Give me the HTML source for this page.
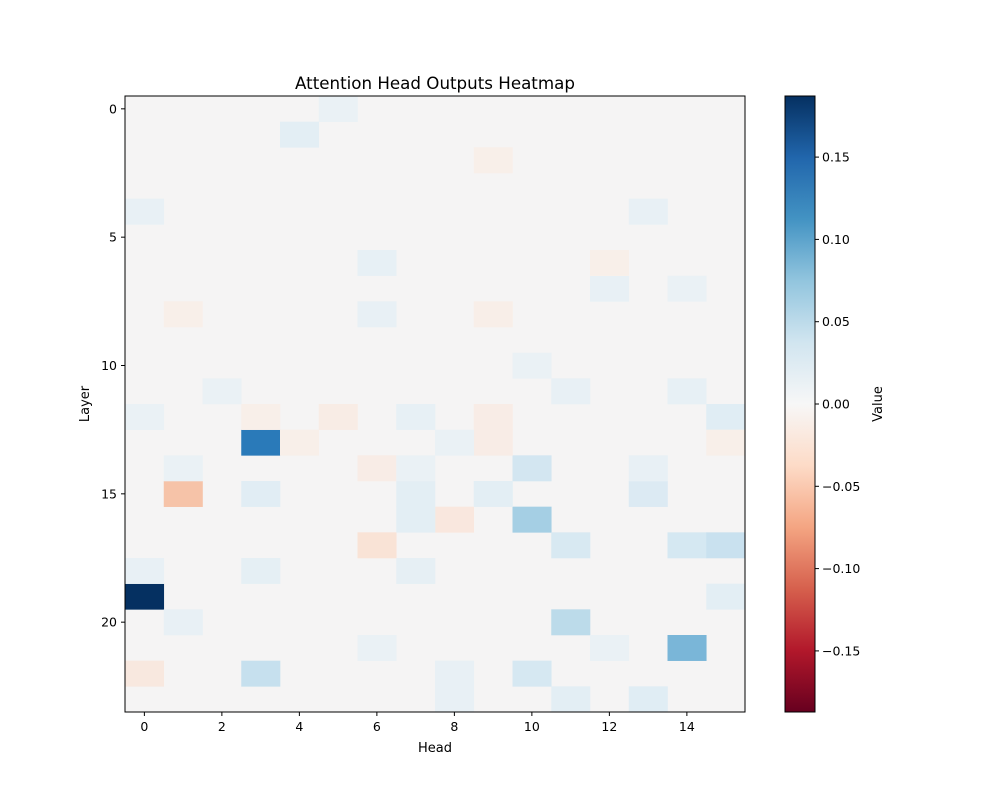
<!DOCTYPE html>
<html><head><meta charset="utf-8"><style>body{margin:0;background:#fff}svg{display:block}text{font-family:"DejaVu Sans","Liberation Sans",sans-serif;fill:#000}</style></head>
<body>
<svg id="s" width="1000" height="800" xmlns="http://www.w3.org/2000/svg">
<defs><linearGradient id="g" x1="0" y1="1" x2="0" y2="0">
<stop offset="0" stop-color="#67001f"/><stop offset="0.1" stop-color="#b2182b"/><stop offset="0.2" stop-color="#d6604d"/><stop offset="0.3" stop-color="#f4a582"/><stop offset="0.4" stop-color="#fddbc7"/><stop offset="0.5" stop-color="#f7f7f7"/><stop offset="0.6" stop-color="#d1e5f0"/><stop offset="0.7" stop-color="#92c5de"/><stop offset="0.8" stop-color="#4393c3"/><stop offset="0.9" stop-color="#2166ac"/><stop offset="1" stop-color="#053061"/></linearGradient></defs>
<text x="435" y="89" font-size="16.7" text-anchor="middle">Attention Head Outputs Heatmap</text>
<rect x="125" y="96" width="620" height="616" fill="#f5f4f4"/>
<g id="cells"></g>
<rect x="125" y="96" width="620" height="616" fill="none" stroke="#000" stroke-width="1"/>
<g id="ticks" font-size="12.5"></g>
<text x="435" y="752" font-size="13" text-anchor="middle">Head</text>
<text transform="translate(89,404) rotate(-90)" font-size="13" text-anchor="middle">Layer</text>
<rect x="785" y="96" width="30" height="616" fill="url(#g)" stroke="#000" stroke-width="1"/>
<text transform="translate(882,404) rotate(-90)" font-size="13" text-anchor="middle">Value</text>
</svg>
<script>
var ns="http://www.w3.org/2000/svg",s=document.getElementById('s');
function el(p,t,a,txt){var e=document.createElementNS(ns,t);for(var k in a)e.setAttribute(k,a[k]);if(txt!==undefined)e.textContent=txt;p.appendChild(e);return e;}
var C=[[0,5,"#eaf1f5"],[1,4,"#e3eef4"],[13,3,"#2a7ab9"],[19,0,"#053061"],[15,1,"#f6c3a8"],[16,10,"#a5cfe4"],[21,14,"#7ab6d8"],[20,11,"#bcdbea"],[22,3,"#c6e0ee"],[22,10,"#d6e8f2"],[14,10,"#d3e6f1"],[17,6,"#f9e3d6"],[17,11,"#d8e9f2"],[17,14,"#d5e8f2"],[17,15,"#c9e1ef"],[22,0,"#f8e8df"],[16,8,"#f9e7de"],[15,3,"#e1edf4"],[15,7,"#e3eef4"],[15,9,"#e3eef4"],[15,13,"#dceaf3"],[16,7,"#e3eef4"],[12,15,"#e0edf4"],[12,5,"#f8ece5"],[12,3,"#f8efe9"],[12,7,"#e7f0f5"],[12,0,"#eaf1f5"],[18,0,"#e8f0f5"],[18,3,"#e5eff4"],[18,7,"#e6eff4"],[19,15,"#e3eef4"],[20,1,"#e8f0f5"],[23,11,"#e3eef4"],[23,13,"#e0edf4"],[23,8,"#e8f0f5"],[22,8,"#e8f0f5"],[11,11,"#e8f0f5"],[10,10,"#eaf1f5"],[6,6,"#e7f0f5"],[8,6,"#e8f0f5"],[4,0,"#e8f0f5"],[4,13,"#e8f0f5"],[7,12,"#e8f0f5"],[7,14,"#eaf1f5"],[14,13,"#e8f0f5"],[11,14,"#e7f0f5"],[11,2,"#eaf1f5"],[12,9,"#f8ece6"],[13,9,"#f8ece6"],[13,15,"#f8efe9"],[13,4,"#f8efe9"],[14,6,"#f8ece6"],[8,1,"#f8efe9"],[8,9,"#f8eee8"],[2,9,"#f8efe9"],[6,12,"#f8efe9"],[14,1,"#eaf1f5"],[14,7,"#eaf1f5"],[13,8,"#eaf1f5"],[21,6,"#eaf1f5"],[21,12,"#eaf1f5"]];
var g=document.getElementById('cells'),w=620/16,h=616/24;
C.forEach(function(c){el(g,'rect',{x:125+c[1]*w,y:96+c[0]*h,width:w+0.3,height:h+0.3,fill:c[2]});});
var t=document.getElementById('ticks');
for(var i=0;i<=14;i+=2){var x=125+(i+0.5)*w;el(t,'line',{x1:x,x2:x,y1:712,y2:716,stroke:'#000'});el(t,'text',{x:x,y:731,'text-anchor':'middle'},i);}
for(var r=0;r<=20;r+=5){var y=96+(r+0.5)*h;el(t,'line',{x1:121,x2:125,y1:y,y2:y,stroke:'#000'});el(t,'text',{x:117,y:y+4.5,'text-anchor':'end'},r);}
[0.15,0.10,0.05,0,-0.05,-0.10,-0.15].forEach(function(v){var y=404-v/0.05*82.3;el(t,'line',{x1:815,x2:819,y1:y,y2:y,stroke:'#000'});el(t,'text',{x:822,y:y+4.5},(v<0?'\u2212':'')+Math.abs(v).toFixed(2));});
</script>
</body></html>
